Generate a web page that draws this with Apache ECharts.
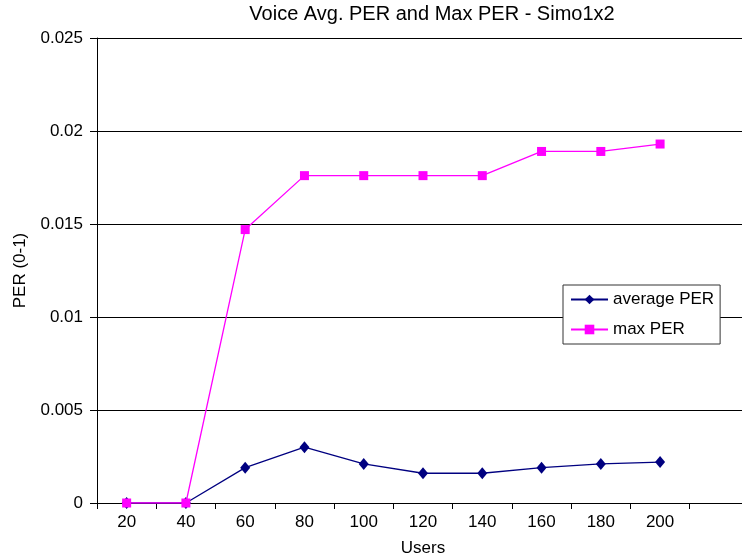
<!DOCTYPE html>
<html>
<head>
<meta charset="utf-8">
<title>Voice Avg. PER and Max PER - Simo1x2</title>
<script src="https://cdn.jsdelivr.net/npm/echarts@6/dist/echarts.min.js"></script>
<style>
  html, body { margin: 0; padding: 0; background: #ffffff; }
  #chart { width: 742px; height: 558px; }
</style>
</head>
<body>
<div id="chart"></div>
<script>
// Number of users per run (last slot left empty on the axis)
const users = ['20', '40', '60', '80', '100', '120', '140', '160', '180', '200', ''];
// Packet error rate, averaged and worst case
const averagePER = [0, 0, 0.0019, 0.0030, 0.0021, 0.0016, 0.0016, 0.0019, 0.0021, 0.0022];
const maxPER = [0, 0, 0.0147, 0.0176, 0.0176, 0.0176, 0.0176, 0.0189, 0.0189, 0.0193];
const perTicks = [0, 0.005, 0.01, 0.015, 0.02, 0.025];

const FONT = '"Liberation Sans", Arial, sans-serif';
const chart = echarts.init(document.getElementById('chart'), null, { renderer: 'canvas' });

chart.setOption({
  backgroundColor: '#ffffff',
  animation: false,
  textStyle: { fontFamily: FONT },
  title: {
    text: 'Voice Avg. PER and Max PER - Simo1x2',
    left: 432,
    top: 4,
    textAlign: 'center',
    padding: 0,
    textStyle: { fontFamily: FONT, fontSize: 20, fontWeight: 'normal', color: '#000' }
  },
  legend: {
    orient: 'vertical',
    left: 563,
    top: 285,
    padding: [6, 6, 6, 7],
    itemGap: 13,
    itemWidth: 37,
    itemHeight: 12,
    backgroundColor: '#ffffff',
    borderColor: '#333333',
    borderWidth: 1,
    borderRadius: 0,
    textStyle: { fontFamily: FONT, fontSize: 17, color: '#000' },
    data: ['average PER', 'max PER']
  },
  grid: {
    left: 97,
    top: 38,
    width: 652,
    bottom: 55,
    containLabel: false,
    outerBoundsMode: 'none'
  },
  xAxis: {
    type: 'category',
    data: users,
    boundaryGap: true,
    name: 'Users',
    nameLocation: 'middle',
    nameGap: 37,
    nameTextStyle: { fontFamily: FONT, fontSize: 17, color: '#000' },
    axisLine: { lineStyle: { color: '#000', width: 1 } },
    axisTick: { show: true, length: 6, lineStyle: { color: '#000' } },
    axisLabel: { fontFamily: FONT, fontSize: 17, color: '#000', margin: 11, interval: 0 },
    splitLine: { show: false }
  },
  yAxis: {
    type: 'value',
    min: perTicks[0],
    max: perTicks[perTicks.length - 1],
    interval: perTicks[1] - perTicks[0],
    name: 'PER (0-1)',
    nameLocation: 'middle',
    nameGap: 68,
    nameTextStyle: { fontFamily: FONT, fontSize: 17, color: '#000' },
    axisLine: { show: true, lineStyle: { color: '#000', width: 1 } },
    axisTick: { show: true, length: 7, lineStyle: { color: '#000' } },
    axisLabel: {
      fontFamily: FONT, fontSize: 17, color: '#000', margin: 14,
      formatter: function (v) { return String(parseFloat(v.toFixed(4))); }
    },
    splitLine: { show: true, lineStyle: { color: '#000', width: 1 } }
  },
  series: [
    {
      name: 'average PER',
      type: 'line',
      data: averagePER,
      symbol: 'diamond',
      symbolSize: [10, 12],
      showAllSymbol: true,
      z: 2,
      itemStyle: { color: '#000080' },
      lineStyle: { color: '#000080', width: 1.3 }
    },
    {
      name: 'max PER',
      type: 'line',
      data: maxPER,
      symbol: 'rect',
      symbolSize: 9,
      showAllSymbol: true,
      z: 3,
      itemStyle: { color: '#ff00ff' },
      lineStyle: { color: '#ff00ff', width: 1.3 }
    }
  ]
});
</script>
</body>
</html>
